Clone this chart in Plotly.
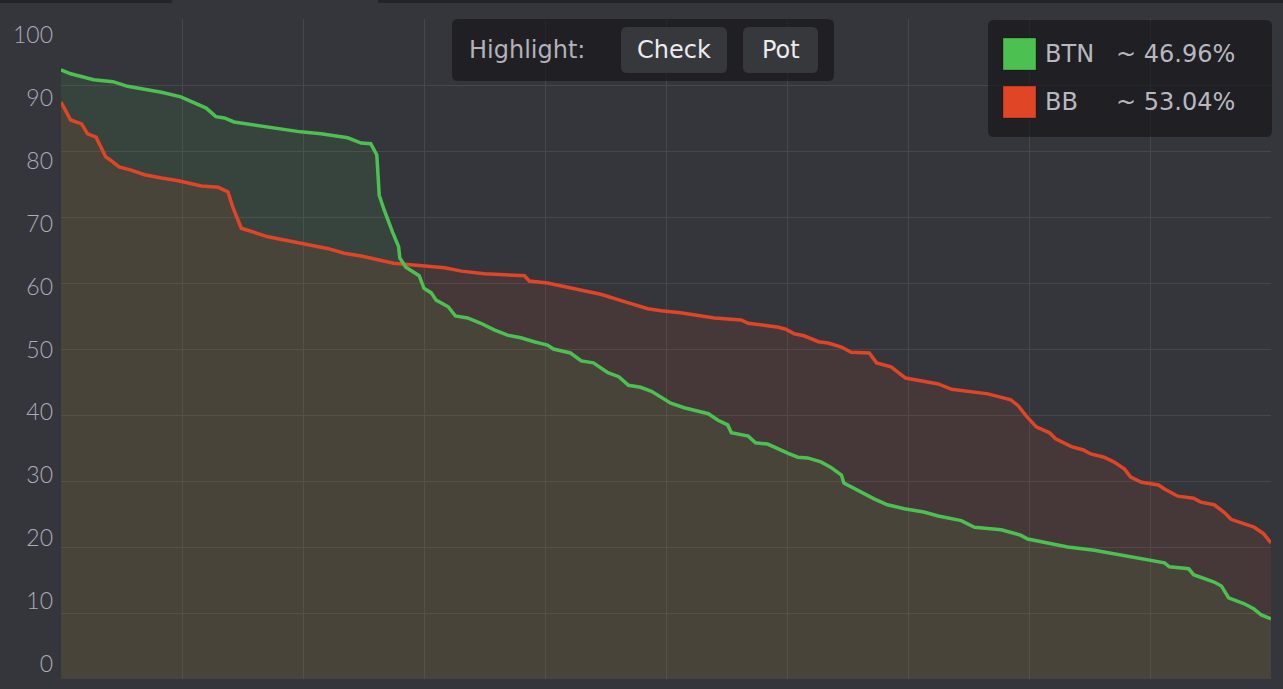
import plotly.graph_objects as go

# equity distribution, x = percent of range, y = equity %
btn_x = [0.0, 0.8, 2.7, 4.3, 5.5, 8.3, 9.9, 11.0, 12.0, 12.8, 13.5, 14.3, 16.5, 17.9, 19.8, 21.5,
         23.7, 24.8, 25.6, 26.1, 26.3, 26.7, 27.0, 27.4, 27.9, 28.0, 28.5, 29.6, 30.0, 30.6, 31.0,
         32.0, 32.6, 33.6, 34.7, 35.8, 36.9, 38.0, 39.1, 40.2, 40.7, 42.1, 43.0, 44.0, 45.2, 46.1,
         46.9, 47.9, 48.8, 49.6, 50.4, 51.5, 53.5, 54.3, 55.1, 55.4, 56.8, 57.4, 58.4, 60.1, 60.9,
         61.7, 62.8, 63.6, 64.5, 64.7, 65.9, 67.2, 68.3, 69.7, 71.3, 72.5, 74.4, 75.5, 77.7, 79.3,
         79.9, 81.6, 83.2, 85.4, 87.6, 89.3, 91.2, 91.6, 93.2, 93.6, 95.3, 95.9, 96.5, 97.8, 98.6,
         99.2, 100.0]
btn_y = [92.3, 91.7, 90.8, 90.5, 89.8, 88.9, 88.2, 87.3, 86.5, 85.2, 85.0, 84.4, 83.8, 83.3, 82.9, 82.6,
         82.0, 81.2, 81.1, 79.4, 73.3, 71.1, 69.5, 67.7, 65.5, 63.8, 62.4, 61.1, 59.2, 58.5, 57.4,
         56.4, 55.0, 54.7, 53.9, 52.9, 52.1, 51.7, 51.1, 50.6, 50.0, 49.4, 48.2, 47.9, 46.4, 45.8,
         44.5, 44.2, 43.6, 42.7, 41.8, 41.1, 40.2, 39.2, 38.5, 37.3, 36.8, 35.8, 35.6, 34.2, 33.6,
         33.5, 32.9, 32.1, 30.9, 29.7, 28.5, 27.3, 26.4, 25.8, 25.3, 24.7, 24.0, 23.0, 22.6, 21.8,
         21.2, 20.6, 20.0, 19.5, 18.8, 18.2, 17.6, 17.0, 16.7, 15.8, 14.7, 14.1, 12.3, 11.4, 10.6,
         9.7, 9.1]

bb_x = [0.0, 0.8, 1.7, 2.2, 2.9, 3.3, 3.7, 4.1, 4.8, 5.8, 6.9, 8.3, 9.7, 11.6, 13.0, 13.8, 14.2,
        14.9, 16.5, 17.1, 19.3, 20.4, 22.1, 23.4, 24.8, 27.5, 31.7, 33.1, 35.0, 38.3, 38.7, 40.2,
        42.4, 44.6, 46.9, 48.5, 49.6, 51.2, 54.0, 56.2, 56.8, 59.3, 59.9, 60.6, 61.4, 62.6, 63.4,
        64.5, 65.3, 66.8, 67.4, 68.6, 69.8, 71.1, 72.5, 73.6, 74.4, 76.6, 78.5, 79.1, 79.8, 80.6,
        81.7, 82.2, 83.5, 84.5, 85.1, 86.2, 87.0, 87.9, 88.4, 89.3, 90.7, 91.2, 92.3, 93.6, 94.2,
        95.3, 96.1, 96.7, 97.8, 98.6, 99.4, 100.0]
bb_y = [87.4, 84.7, 84.1, 82.6, 82.1, 80.5, 79.1, 78.6, 77.6, 77.1, 76.4, 75.9, 75.5, 74.7, 74.5, 73.8, 71.5,
        68.3, 67.4, 67.0, 66.2, 65.8, 65.2, 64.5, 64.1, 63.0, 62.3, 61.8, 61.4, 61.1, 60.3, 60.0,
        59.1, 58.3, 57.0, 56.1, 55.8, 55.5, 54.7, 54.4, 53.9, 53.3, 53.0, 52.3, 52.0, 51.1, 50.9,
        50.3, 49.5, 49.4, 47.9, 47.3, 45.6, 45.2, 44.7, 43.9, 43.7, 43.2, 42.3, 41.4, 39.8, 38.2,
        37.3, 36.4, 35.2, 34.7, 34.1, 33.6, 32.9, 31.8, 30.6, 29.8, 29.4, 28.8, 27.7, 27.4, 26.8,
        26.4, 25.3, 24.2, 23.5, 23.0, 22.0, 20.6]

players = ["BTN", "BB"]
equities = ["~ 46.96%", "~ 53.04%"]
y_ticks = list(range(0, 101, 10))

GREEN = "#4cc152"
RED = "#e04526"
BG = "#35363b"
GRID = "#46474b"
UI_FONT = "DejaVu Sans"

W, H = 1283, 689
ML, MR, MT, MB = 61, 12, 19, 10
PW, PH = W - ML - MR, H - MT - MB


def px(x):
    return (x - ML) / PW


def py(y):
    return (H - MB - y) / PH


def rounded_rect(x0, y0, x1, y1, r):
    # pixel box -> svg path in paper coords
    pts = [
        f"M {px(x0 + r)} {py(y0)}",
        f"L {px(x1 - r)} {py(y0)}",
        f"Q {px(x1)} {py(y0)} {px(x1)} {py(y0 + r)}",
        f"L {px(x1)} {py(y1 - r)}",
        f"Q {px(x1)} {py(y1)} {px(x1 - r)} {py(y1)}",
        f"L {px(x0 + r)} {py(y1)}",
        f"Q {px(x0)} {py(y1)} {px(x0)} {py(y1 - r)}",
        f"L {px(x0)} {py(y0 + r)}",
        f"Q {px(x0)} {py(y0)} {px(x0 + r)} {py(y0)}",
        "Z",
    ]
    return " ".join(pts)


fig = go.Figure()

# fills first, lines on top
fig.add_trace(go.Scatter(x=btn_x, y=btn_y, mode="lines", fill="tozeroy",
                         fillcolor="rgba(76,192,82,0.10)", line=dict(width=0), hoverinfo="skip"))
fig.add_trace(go.Scatter(x=bb_x, y=bb_y, mode="lines", fill="tozeroy",
                         fillcolor="rgba(221,68,38,0.10)", line=dict(width=0), hoverinfo="skip"))
fig.add_trace(go.Scatter(x=bb_x, y=bb_y, mode="lines", name="BB", line=dict(color=RED, width=3.5)))
fig.add_trace(go.Scatter(x=btn_x, y=btn_y, mode="lines", name="BTN", line=dict(color=GREEN, width=3.5)))
# label-only axis
fig.add_trace(go.Scatter(x=[None], y=[None], yaxis="y2", hoverinfo="skip"))

shapes = []
# dark strip at top edge of the page
for x0, x1 in [(0, 172), (378, W)]:
    shapes.append(dict(type="rect", xref="paper", yref="paper", x0=px(x0), x1=px(x1),
                       y0=py(3), y1=py(0), fillcolor="#232427", line=dict(width=0), layer="above"))

# highlight bar
shapes.append(dict(type="path", xref="paper", yref="paper", path=rounded_rect(452, 19, 834, 81, 6),
                   fillcolor="rgba(20,20,22,0.62)", line=dict(width=0), layer="above"))
for x0, x1 in [(621, 727), (743, 818)]:
    shapes.append(dict(type="path", xref="paper", yref="paper", path=rounded_rect(x0, 27, x1, 73, 6),
                       fillcolor="#37383c", line=dict(width=0), layer="above"))

# legend box
shapes.append(dict(type="path", xref="paper", yref="paper", path=rounded_rect(988, 20, 1272, 137, 6),
                   fillcolor="rgba(20,20,22,0.62)", line=dict(width=0), layer="above"))
for (y0, y1), c in zip([(38, 70), (86, 118)], [GREEN, RED]):
    shapes.append(dict(type="rect", xref="paper", yref="paper", x0=px(1003), x1=px(1036),
                       y0=py(y1), y1=py(y0), fillcolor=c, line=dict(width=1, color="rgba(0,0,0,0.25)"),
                       layer="above"))

annotations = [
    dict(text="Highlight:", x=px(467), y=py(50), xanchor="left", yanchor="middle",
         font=dict(family=UI_FONT, size=24, color="#b2b2ba")),
    dict(text="Check", x=px(674), y=py(50), xanchor="center", yanchor="middle",
         font=dict(family=UI_FONT, size=24, color="#ececf0")),
    dict(text="Pot", x=px(781), y=py(50), xanchor="center", yanchor="middle",
         font=dict(family=UI_FONT, size=24, color="#ececf0")),
]
for name, eq, yc in zip(players, equities, [54, 102]):
    annotations.append(dict(text=name, x=px(1043), y=py(yc), xanchor="left", yanchor="middle",
                            font=dict(family=UI_FONT, size=24, color="#b8b8c0")))
    annotations.append(dict(text=eq, x=px(1114), y=py(yc), xanchor="left", yanchor="middle",
                            font=dict(family=UI_FONT, size=24, color="#b8b8c0")))
for a in annotations:
    a.update(xref="paper", yref="paper", showarrow=False)

fig.update_layout(
    width=W, height=H,
    margin=dict(l=ML, r=MR, t=MT, b=MB),
    paper_bgcolor=BG, plot_bgcolor=BG,
    showlegend=False,
    xaxis=dict(range=[0, 100], dtick=10, showgrid=True, gridcolor=GRID, gridwidth=1,
               showticklabels=False, zeroline=False, showline=False, fixedrange=True),
    yaxis=dict(range=[0, 100], dtick=10, showgrid=True, gridcolor=GRID, gridwidth=1,
               showticklabels=False, zeroline=False, showline=False),
    yaxis2=dict(overlaying="y", side="left", range=[-2.385, 102.55], tickvals=y_ticks,
                showgrid=False, zeroline=False, showline=False, ticks="", ticklabelstandoff=7,
                tickfont=dict(family="Lato", size=23, color="#ababbe", weight=300)),
    shapes=shapes,
    annotations=annotations,
)

fig.write_html("out.html", config={"displayModeBar": False},
               post_script="document.body.style.margin='0px';")
